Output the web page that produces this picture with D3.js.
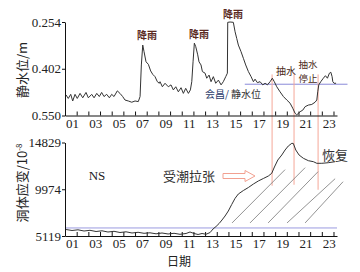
<!DOCTYPE html>
<html>
<head>
<meta charset="utf-8">
<script src="https://cdn.jsdelivr.net/npm/d3@7"></script>
<style>
body { margin: 0; background: #fff; }
svg text { font-family: "Liberation Serif", "DejaVu Serif", serif; fill: #222; }
svg text.cjk { font-family: "Noto Sans CJK SC", sans-serif; }
</style>
</head>
<body>
<script>
// day ticks (day boundaries) and the odd-day labels
var dayTicks = d3.range(0, 24);
var dayLabels = ["01", "03", "05", "07", "09", "11", "13", "15", "17", "19", "21", "23"];

var levelTicks = [0.254, 0.402, 0.550];
var strainTicks = [5119, 9974, 14829];

// static water level (m)
var waterDays = [0.09, 0.28, 0.49, 0.66, 0.86, 1.05, 1.29, 1.52, 1.80, 2.00, 2.29, 2.49, 2.72, 2.94,
    3.14, 3.34, 3.57, 3.80, 4.00, 4.20, 4.48, 4.71, 4.94, 5.14, 5.42, 5.72, 6.00, 6.28, 6.43,
    6.54, 6.66, 6.77, 6.94, 7.14, 7.34, 7.52, 7.71, 7.91, 8.08, 8.14, 8.34, 8.57, 8.85, 9.08,
    9.28, 9.49, 9.71, 9.94, 10.14, 10.34, 10.57, 10.74, 10.86, 10.97, 11.08, 11.20, 11.37, 11.48,
    11.65, 11.77, 12.00, 12.14, 12.34, 12.51, 12.71, 12.91, 13.14, 13.37, 13.56, 13.77, 13.91,
    13.94, 14.14, 14.42, 14.57, 14.71, 14.85, 15.08, 15.28, 15.48, 15.71, 15.94, 16.14, 16.28,
    16.48, 16.71, 16.94, 17.14, 17.34, 17.57, 17.76, 17.93, 18.14, 18.42, 18.71, 19.00, 19.28,
    19.51, 19.71, 19.85, 20.14, 20.37, 20.57, 20.85, 21.14, 21.42, 21.57, 21.65, 21.74, 21.91,
    22.13, 22.31, 22.48, 22.65, 22.77, 22.88, 22.94, 23.05, 23.22];
var waterLevel = [0.485, 0.496, 0.483, 0.504, 0.483, 0.496, 0.480, 0.494, 0.477, 0.494, 0.483, 0.494,
    0.480, 0.490, 0.477, 0.490, 0.483, 0.494, 0.483, 0.490, 0.472, 0.480, 0.490, 0.501, 0.504,
    0.508, 0.504, 0.506, 0.490, 0.390, 0.327, 0.348, 0.380, 0.388, 0.409, 0.420, 0.427, 0.443,
    0.448, 0.443, 0.459, 0.448, 0.459, 0.453, 0.469, 0.459, 0.475, 0.462, 0.480, 0.464, 0.480,
    0.469, 0.443, 0.380, 0.321, 0.332, 0.358, 0.380, 0.390, 0.411, 0.416, 0.432, 0.422, 0.443,
    0.427, 0.448, 0.438, 0.453, 0.443, 0.427, 0.416, 0.255, 0.254, 0.255, 0.285, 0.306, 0.327,
    0.348, 0.369, 0.390, 0.411, 0.427, 0.443, 0.435, 0.446, 0.443, 0.453, 0.448, 0.453, 0.443,
    0.432, 0.443, 0.459, 0.475, 0.490, 0.501, 0.511, 0.527, 0.543, 0.548, 0.538, 0.533, 0.522,
    0.517, 0.515, 0.508, 0.501, 0.475, 0.453, 0.443, 0.432, 0.424, 0.432, 0.416, 0.413, 0.427,
    0.443, 0.448, 0.448];

// cavern strain (10^-8)
var strainDays = [0.09, 0.60, 1.11, 1.63, 2.14, 2.66, 3.17, 3.68, 4.20, 4.71, 5.23, 5.74, 6.26, 6.77,
    7.28, 7.80, 8.31, 8.83, 9.34, 9.85, 10.37, 10.71, 11.05, 11.40, 11.74, 12.08, 12.43, 12.68,
    12.94, 13.20, 13.45, 13.71, 13.99, 14.28, 14.57, 14.85, 15.28, 15.71, 16.14, 16.56, 16.99,
    17.42, 17.71, 17.94, 18.23, 18.57, 18.85, 19.13, 19.43, 19.56, 19.77, 20.05, 20.42, 20.85,
    21.28, 21.57, 22.00, 22.56, 23.14];
var strainValues = [5794, 5690, 5763, 5638, 5711, 5586, 5659, 5534, 5607, 5482, 5555, 5431, 5503,
    5399, 5451, 5347, 5431, 5327, 5399, 5296, 5379, 5534, 5379, 5275, 5379, 5296, 5482, 5846,
    6106, 6417, 6781, 7196, 7715, 8390, 9034, 9481, 9844, 10156, 10519, 10831, 11090, 11350,
    11630, 12285, 13012, 13531, 14050, 14466, 14746, 14725, 14050, 13531, 13188, 12939, 12835,
    12669, 12669, 12731, 12835];

// annotations
var pumpDays = [17.74, 19.62, 21.68];
var pumpTop = 0.420;
var pumpBottom = [10340, 10440, 9920];
var levelRef = 0.451, levelRefDays = [15.4, 24.2];
var strainRef = 5954, strainRefDays = [0, 23.3];
var hatchFromDay = [14.31, 15.85, 17.40, 19.02, 20.57];
var hatchToDay = [18.85, 20.57, 21.68, 23.14, 23.82];
var hatchFrom = 6476;
var hatchTo = [12009, 12218, 11800, 11070, 10757];

var width = 360, height = 272;

var svg = d3.select("body").append("svg")
    .attr("width", width)
    .attr("height", height);

var x = d3.scaleLinear().domain([0, 23.3]).range([65, 337]);
var yTop = d3.scaleLinear().domain([0.254, 0.550]).range([22, 115.5]);
var yBot = d3.scaleLinear().domain([5119, 14829]).range([236, 142.5]);

function styleAxis(g) {
    g.selectAll("path, line").attr("stroke", "#111").attr("stroke-width", 1);
    g.selectAll("text")
        .attr("font-family", "Liberation Serif, serif")
        .attr("font-size", 13)
        .attr("fill", "#222");
    g.attr("font-family", null).attr("font-size", null);
}

function drawXAxis(yPos) {
    svg.append("g")
        .attr("transform", "translate(0," + yPos + ")")
        .call(d3.axisBottom(x).tickValues(dayTicks).tickSizeInner(-4).tickSizeOuter(0).tickFormat(""))
        .call(styleAxis);
    svg.append("g")
        .attr("transform", "translate(0," + yPos + ")")
        .call(d3.axisBottom(x)
            .tickValues(dayLabels.map(function(d, i){ return i * 2 + 0.6; }))
            .tickSize(0).tickPadding(3)
            .tickFormat(function(d, i){ return dayLabels[i]; }))
        .call(function(g){ g.select(".domain").remove(); })
        .call(styleAxis);
}

// reference lines (blue)
svg.append("line")
    .attr("x1", x(levelRefDays[0])).attr("x2", x(levelRefDays[1]))
    .attr("y1", yTop(levelRef)).attr("y2", yTop(levelRef))
    .attr("stroke", "#8a8ad8").attr("stroke-width", 1);
svg.append("line")
    .attr("x1", x(strainRefDays[0])).attr("x2", x(strainRefDays[1]))
    .attr("y1", yBot(strainRef)).attr("y2", yBot(strainRef))
    .attr("stroke", "#9a9ae0").attr("stroke-width", 1);

// pumping lines (red, across both panels)
svg.append("g").selectAll("line")
    .data(pumpDays)
    .enter()
    .append("line")
    .attr("x1", function(d){ return x(d); })
    .attr("x2", function(d){ return x(d); })
    .attr("y1", yTop(pumpTop))
    .attr("y2", function(d, i){ return yBot(pumpBottom[i]); })
    .attr("stroke", "#f5a898").attr("stroke-width", 1);

// hatching
svg.append("g").selectAll("line")
    .data(hatchFromDay)
    .enter()
    .append("line")
    .attr("x1", function(d){ return x(d); })
    .attr("y1", yBot(hatchFrom))
    .attr("x2", function(d, i){ return x(hatchToDay[i]); })
    .attr("y2", function(d, i){ return yBot(hatchTo[i]); })
    .attr("stroke", "#777").attr("stroke-width", 0.8);

// axes
svg.append("g")
    .attr("transform", "translate(65,0)")
    .call(d3.axisLeft(yTop).tickValues(levelTicks).tickSizeInner(3).tickSizeOuter(0).tickPadding(1)
        .tickFormat(d3.format(".3f")))
    .call(styleAxis);
svg.append("g")
    .attr("transform", "translate(65,0)")
    .call(d3.axisLeft(yBot).tickValues(strainTicks).tickSizeInner(3).tickSizeOuter(0).tickPadding(1)
        .tickFormat(d3.format("d")))
    .call(styleAxis);
drawXAxis(115.5);
drawXAxis(236);

// series lines
var waterLine = d3.line()
    .x(function(d, i){ return x(waterDays[i]); })
    .y(function(d){ return yTop(d); });
svg.append("path")
    .datum(waterLevel)
    .attr("d", waterLine)
    .attr("fill", "none").attr("stroke", "#333").attr("stroke-width", 1);

var strainLine = d3.line()
    .x(function(d, i){ return x(strainDays[i]); })
    .y(function(d){ return yBot(d); });
svg.append("path")
    .datum(strainValues)
    .attr("d", strainLine)
    .attr("fill", "none").attr("stroke", "#333").attr("stroke-width", 1);

// axis titles
svg.append("text")
    .attr("class", "cjk")
    .attr("transform", "translate(27,70) rotate(-90)")
    .attr("text-anchor", "middle")
    .attr("font-size", 13)
    .text("静水位/m");

var st = svg.append("text")
    .attr("class", "cjk")
    .attr("transform", "translate(27,183) rotate(-90)")
    .attr("text-anchor", "middle")
    .attr("font-size", 13);
st.append("tspan").text("洞体应变/10");
st.append("tspan").attr("font-size", 8).attr("dy", -5).text("-8");

svg.append("text")
    .attr("class", "cjk")
    .attr("x", 179).attr("y", 266)
    .attr("text-anchor", "middle")
    .attr("font-size", 12)
    .text("日期");

// annotations, top panel
var rainX = [147, 199, 233];
var rainY = [39, 38, 18];
svg.append("g").selectAll("text")
    .data(rainX)
    .enter()
    .append("text")
    .attr("class", "cjk")
    .attr("x", function(d){ return d; })
    .attr("y", function(d, i){ return rainY[i]; })
    .attr("text-anchor", "middle")
    .attr("font-size", 10)
    .attr("font-weight", "bold")
    .style("fill", "#5a2a22")
    .text("降雨");

svg.append("text").attr("class", "cjk")
    .attr("x", 286).attr("y", 75).attr("text-anchor", "middle")
    .attr("font-size", 10).style("fill", "#4a2a20").text("抽水");
svg.append("text").attr("class", "cjk")
    .attr("x", 308).attr("y", 68).attr("text-anchor", "middle")
    .attr("font-size", 9.5).style("fill", "#4a2a20").text("抽水");
svg.append("text").attr("class", "cjk")
    .attr("x", 308).attr("y", 82).attr("text-anchor", "middle")
    .attr("font-size", 9.5).style("fill", "#4a2a20").text("停止");

var gauge = svg.append("text").attr("class", "cjk")
    .attr("x", 233).attr("y", 98).attr("text-anchor", "middle")
    .attr("font-size", 10);
gauge.append("tspan").style("fill", "#2a3a6a").text("会昌/ ");
gauge.append("tspan").style("fill", "#333").text("静水位");

// annotations, bottom panel
svg.append("text")
    .attr("x", 97).attr("y", 180)
    .attr("text-anchor", "middle")
    .attr("font-size", 13)
    .text("NS");

svg.append("text").attr("class", "cjk")
    .attr("x", 189).attr("y", 181).attr("text-anchor", "middle")
    .attr("font-size", 13).style("fill", "#333").text("受潮拉张");

svg.append("text").attr("class", "cjk")
    .attr("x", 335).attr("y", 160).attr("text-anchor", "middle")
    .attr("font-size", 13).style("fill", "#333").text("恢复");

// hollow arrow
var ax0 = 223, ax1 = 255, ay = 176;
svg.append("path")
    .attr("d", "M" + ax0 + "," + (ay - 2.5) + "H" + (ax1 - 10) + "V" + (ay - 5.5) +
        "L" + ax1 + "," + ay + "L" + (ax1 - 10) + "," + (ay + 5.5) + "V" + (ay + 2.5) +
        "H" + ax0 + "Z")
    .attr("fill", "none").attr("stroke", "#f2a090").attr("stroke-width", 1);
</script>
</body>
</html>
